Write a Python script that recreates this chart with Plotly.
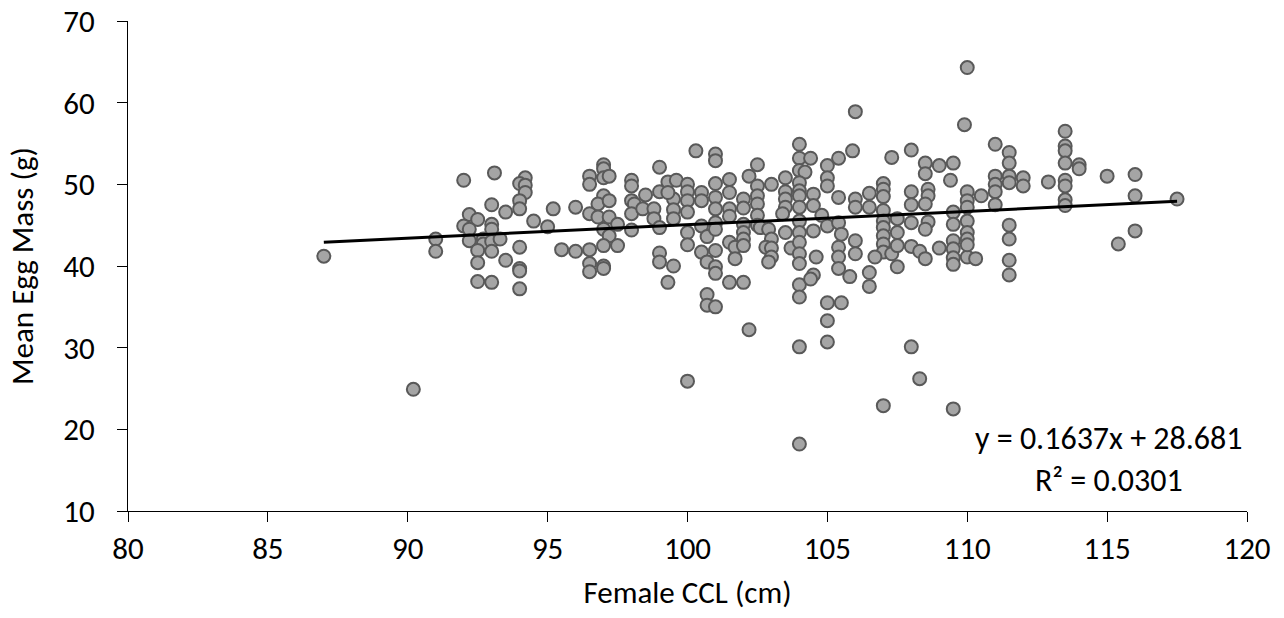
import plotly.graph_objects as go

# Female CCL (cm)
ccl = [
    87.0,
    92.0, 93.1, 94.2, 94.0, 94.2, 94.2, 94.0, 94.0, 93.0, 93.5, 92.2, 92.5, 92.0, 93.0, 93.0, 92.2,
    91.0, 91.0, 92.2, 92.7, 92.7, 93.0, 93.3, 92.5, 93.0, 92.5, 93.5, 94.0, 94.0, 94.0, 92.5, 93.0, 94.0,
    95.2, 94.5, 95.0, 96.0, 95.5, 96.0, 96.5, 96.5, 97.0, 97.0, 97.0, 97.2, 97.0, 96.8, 97.2, 96.5,
    96.8, 97.2, 97.5, 97.0, 97.2, 97.0, 96.5, 97.5, 96.5, 96.5, 97.0, 97.0, 98.0, 98.0, 98.0, 98.1,
    98.0, 98.0,
    98.5, 98.4, 99.0, 99.0, 98.8, 98.8, 99.0, 99.3, 99.6, 99.5, 99.5, 99.5, 99.3, 100.0, 100.0, 100.0,
    100.0, 100.0, 100.0, 99.0, 99.0, 99.5, 99.3, 100.3, 101.0, 101.0, 100.5, 100.5, 100.5, 100.5,
    100.7, 100.7, 101.0, 101.0, 101.0, 101.0, 101.0, 101.0, 101.0, 101.0, 101.5, 101.5, 101.5, 101.5,
    101.5, 101.7, 101.7, 101.5, 102.0, 100.7, 100.7, 101.0, 102.2, 102.2,
    106.0, 105.9, 104.0, 104.0, 104.4, 104.0, 104.2, 105.4, 105.0, 105.0, 105.0, 102.5, 102.5, 103.0,
    102.5, 102.5, 102.0, 102.0, 102.5, 102.5, 102.0, 102.0, 102.0, 102.0, 102.6, 102.9, 103.0, 102.8,
    103.0, 103.0, 102.9, 103.5, 103.5, 103.5, 103.5, 103.4, 103.5, 103.7, 104.0, 104.0, 104.0, 104.0,
    104.0, 104.0, 104.0, 104.0, 104.0, 104.0, 104.0, 104.5, 104.5, 104.5, 104.6, 104.5, 104.4, 104.8,
    105.0, 105.4, 105.4, 105.5, 106.0, 106.0, 106.0, 106.0, 105.4, 105.4, 105.4, 105.8, 105.0, 105.5,
    105.0,
    109.9, 107.3, 108.0, 108.5, 108.5, 109.0, 109.5, 109.4, 106.5, 106.5, 107.0, 107.0, 107.0, 107.0,
    107.0, 107.0, 107.0, 107.0, 107.0, 107.3, 107.5, 107.5, 107.5, 107.5, 108.0, 108.0, 108.0, 108.0,
    108.3, 108.5, 108.6, 108.6, 108.5, 108.6, 108.5, 109.0, 109.5, 109.5, 109.5, 109.5, 109.5, 109.5,
    110.0, 110.0, 110.0, 110.0, 110.0, 110.0, 110.0, 106.7, 106.5, 106.5,
    111.0, 111.5, 111.5, 111.5, 111.5, 111.0, 111.0, 111.0, 111.0, 112.0, 112.0, 110.5, 110.0, 110.3,
    111.5, 111.5, 111.5, 111.5, 112.9, 113.5, 113.5, 113.5, 113.5, 113.5, 113.5, 113.5, 113.5, 114.0,
    114.0,
    115.0, 116.0, 116.0, 117.5, 116.0, 115.4,
    90.2, 100.0, 104.0, 104.0, 105.0, 107.0, 108.0, 108.3, 109.5, 110.0,
]

# Mean Egg Mass (g)
egg_mass = [
    41.2,
    50.5, 51.4, 50.8, 50.1, 49.9, 49.0, 48.0, 47.0, 47.5, 46.6, 46.3, 45.7, 44.9, 45.1, 44.5, 44.5,
    43.3, 41.8, 43.1, 43.3, 42.7, 43.0, 43.3, 41.9, 41.8, 40.4, 40.7, 42.3, 39.7, 39.4, 38.1, 38.0, 37.2,
    47.0, 45.5, 44.8, 47.2, 42.0, 41.8, 51.0, 50.0, 52.4, 51.9, 50.8, 51.0, 48.6, 47.6, 48.0, 46.4,
    46.0, 46.0, 45.1, 44.5, 43.7, 42.5, 42.0, 42.5, 40.3, 39.3, 40.0, 39.7, 50.5, 49.8, 48.0, 47.6,
    46.4, 44.4,
    48.7, 47.0, 52.1, 49.1, 47.0, 45.8, 44.7, 50.3, 50.5, 48.2, 46.9, 45.8, 49.0, 50.0, 49.1, 48.0,
    46.6, 44.1, 42.6, 41.6, 40.5, 40.0, 38.0, 54.1, 53.7, 52.9, 49.0, 48.0, 44.9, 41.7,
    43.6, 40.5, 50.1, 48.4, 47.0, 45.3, 44.5, 41.9, 39.9, 39.1, 50.6, 49.0, 47.0, 46.1,
    42.9, 42.3, 40.9, 38.0, 38.0, 36.5, 35.2, 35.0, 51.0, 32.2,
    58.9, 54.1, 54.9, 53.2, 53.2, 51.7, 51.5, 53.2, 52.3, 50.8, 49.8, 52.4, 49.8, 50.0,
    48.6, 47.6, 48.2, 47.1, 46.2, 45.0, 45.1, 44.1, 43.3, 42.5, 44.7, 44.5, 43.3, 42.3,
    42.2, 41.1, 40.5, 50.8, 49.1, 48.2, 47.2, 46.4, 44.1, 42.2, 50.2, 49.2, 48.6, 47.2,
    45.5, 44.1, 42.9, 41.5, 40.3, 37.7, 36.2, 48.8, 47.4, 44.3, 41.1, 38.9, 38.4, 46.2,
    44.9, 48.4, 45.3, 43.9, 48.2, 47.2, 43.1, 41.5, 42.3, 41.1, 39.7, 38.7, 35.5, 35.5,
    33.3,
    57.3, 53.3, 54.2, 52.6, 51.3, 52.3, 52.6, 50.5, 48.9, 47.2, 50.1, 49.4, 48.5, 46.8,
    45.5, 44.7, 43.7, 42.7, 41.7, 41.5, 45.8, 44.1, 42.5, 39.9, 49.1, 47.5, 45.3, 42.4,
    41.8, 40.9, 49.4, 48.6, 47.6, 45.4, 44.5, 42.2, 46.6, 45.1, 43.1, 42.1, 41.0, 40.2,
    49.1, 48.0, 47.2, 45.5, 44.1, 43.3, 41.1, 41.1, 39.2, 37.5,
    54.9, 53.9, 52.6, 51.0, 50.2, 51.0, 50.0, 49.1, 47.5, 50.8, 49.8, 48.6, 42.6, 40.9,
    45.0, 43.3, 40.7, 38.9, 50.3, 56.5, 54.7, 54.1, 52.6, 50.5, 49.8, 48.1, 47.4, 52.4,
    51.9,
    51.0, 51.2, 48.6, 48.2, 44.3, 42.7,
    24.9, 25.9, 30.1, 18.2, 30.7, 22.9, 30.1, 26.2, 22.5, 64.3,
]

# Linear trendline as reported on the chart
slope = 0.1637
intercept = 28.681
r_squared = 0.0301

x_ticks = [80, 85, 90, 95, 100, 105, 110, 115, 120]
y_ticks = [10, 20, 30, 40, 50, 60, 70]

FONT = "Carlito, Calibri, Lato, sans-serif"
FS = 31

x_line = [min(ccl), max(ccl)]
y_line = [slope * v + intercept for v in x_line]

fig = go.Figure()
fig.add_trace(go.Scatter(
    x=ccl, y=egg_mass, mode="markers",
    marker=dict(size=13, color="#A5A5A5", line=dict(color="#595959", width=2)),
    showlegend=False, cliponaxis=False,
))
fig.add_trace(go.Scatter(
    x=x_line, y=y_line, mode="lines",
    line=dict(color="#000000", width=3),
    showlegend=False,
))

fig.add_annotation(
    xref="x", yref="y", x=115.05, y=16.3,
    text=f"y = {slope}x + {intercept}<br>R² = {r_squared}",
    showarrow=False, align="center",
    font=dict(family=FONT, size=FS + 1, color="#000000"),
)

axis_common = dict(
    showgrid=False, zeroline=False, showline=True, linecolor="#000000", linewidth=1.3,
    ticks="outside", ticklen=10, tickwidth=1.3, tickcolor="#000000",
    tickfont=dict(family=FONT, size=FS, color="#000000"),
    ticklabeloverflow="allow", automargin=False,
)

fig.update_xaxes(
    range=[80, 120], tickvals=x_ticks, ticktext=[str(v) for v in x_ticks],
    title=dict(text="Female CCL (cm)", font=dict(family=FONT, size=FS, color="#000000"), standoff=14),
    **axis_common,
)
fig.update_yaxes(
    range=[10, 70], tickvals=y_ticks, ticktext=[str(v) for v in y_ticks],
    ticklabelstandoff=16,
    title=dict(text="Mean Egg Mass (g)", font=dict(family=FONT, size=FS, color="#000000"), standoff=20),
    **axis_common,
)

fig.update_layout(
    width=1284, height=618,
    margin=dict(l=128, r=37, t=21, b=107, autoexpand=False),
    paper_bgcolor="#FFFFFF", plot_bgcolor="#FFFFFF",
    font=dict(family=FONT),
)

fig.write_html("out.html")
